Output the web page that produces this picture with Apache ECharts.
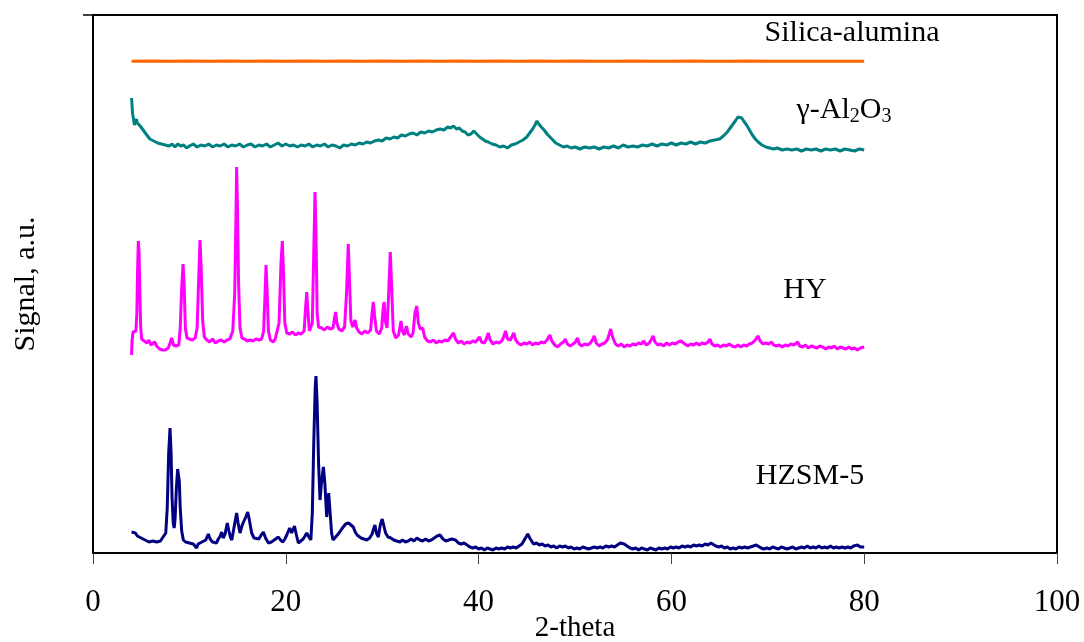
<!DOCTYPE html>
<html>
<head>
<meta charset="utf-8">
<script src="https://cdn.jsdelivr.net/npm/echarts@6/dist/echarts.min.js"></script>
<style>html,body{margin:0;padding:0;background:#fff}#c{width:1084px;height:642px}</style>
</head>
<body>
<div id="c"></div>
<script>
// x-axis tick labels
const xTicks = [0, 20, 40, 60, 80, 100];
const seriesNames = ['Silica-alumina', 'γ-Al2O3', 'HY', 'HZSM-5'];

const silicaAlumina = [[4,491.8],[6,492],[8,491.8],[10,492],[12,491.7],[14,492.1],[16,491.8],[18,492],[20,491.7],[22,492],[24,491.8],[26,492.1],[28,491.7],[30,492],[32,491.8],[34,492],[36,491.7],[38,492],[40,491.8],[42,492],[44,491.7],[46,492],[48,491.8],[50,492],[52,491.7],[54,491.8],[56,492],[58,491.7],[60,491.8],[62,492],[64,491.7],[66,491.8],[68,492],[70,491.7],[72,491.8],[74,491.7],[76,491.8],[78,491.7],[80,491.8]];

const gammaAlumina = [[4.0,455],[4.05,448],[4.1,440],[4.2,434],[4.3,428],[4.4,431],[4.5,434],[4.6,430],[4.75,432],[4.9,427],[5.05,426],[5.2,423],[5.35,421],[5.5,419],[5.7,418],[5.9,414],[6.1,415],[6.3,412],[6.5,413],[6.7,410],[6.9,412],[7.1,409],[7.3,411],[7.5,408],[7.7,410],[7.9,407],[8.2,409],[8.5,406],[8.8,409],[9.1,407],[9.4,408],[9.7,405],[10.0,407],[10.4,409],[10.8,406],[11.2,408],[11.6,407],[12.0,409],[12.4,406],[12.8,408],[13.2,407],[13.6,409],[14.0,406],[14.4,408],[14.8,407],[15.2,409],[15.6,406],[16.0,408],[16.4,409],[16.8,406],[17.2,408],[17.6,407],[18.0,409],[18.4,406],[18.8,408],[19.2,410],[19.6,407],[20.0,409],[20.4,407],[20.8,408],[21.2,406],[21.6,408],[22.0,407],[22.4,409],[22.8,406],[23.2,408],[23.6,407],[24.0,409],[24.4,406],[24.8,408],[25.2,407],[25.6,405],[26.0,408],[26.4,407],[26.8,409],[27.2,408],[27.6,410],[28.0,409],[28.4,411],[28.8,410],[29.2,412],[29.6,413],[30.0,412],[30.4,415],[30.8,414],[31.2,416],[31.6,415],[32.0,418],[32.4,417],[32.8,419],[33.2,420],[33.6,418],[34.0,421],[34.4,420],[34.8,422],[35.2,421],[35.6,423],[36.0,424],[36.4,423],[36.8,426],[37.1,425],[37.4,427],[37.7,424],[38.0,425],[38.3,422],[38.6,421],[38.9,418],[39.2,419],[39.5,422],[39.8,419],[40.1,416],[40.4,414],[40.7,412],[41.0,411],[41.4,409],[41.8,408],[42.2,406],[42.6,407],[43.0,405],[43.4,408],[43.8,409],[44.2,411],[44.6,413],[45.0,416],[45.3,420],[45.6,424],[45.85,428],[46.05,432],[46.25,429],[46.5,426],[46.8,423],[47.1,419],[47.4,416],[47.7,413],[48.0,410],[48.4,408],[48.8,406],[49.2,407],[49.6,405],[50.0,406],[50.5,404],[51.0,406],[51.5,405],[52.0,406],[52.5,404],[53.0,406],[53.5,405],[54.0,407],[54.5,405],[55.0,408],[55.5,406],[56.0,407],[56.5,406],[57.0,408],[57.5,407],[58.0,409],[58.5,407],[59.0,409],[59.5,408],[60.0,410],[60.5,408],[61.0,410],[61.5,409],[62.0,411],[62.5,409],[63.0,411],[63.5,410],[64.0,412],[64.5,413],[65.0,414],[65.4,417],[65.8,421],[66.1,425],[66.4,429],[66.7,433],[66.9,436],[67.1,438],[67.3,435],[67.5,432],[67.8,428],[68.1,423],[68.4,418],[68.7,414],[69.0,411],[69.4,408],[69.8,406],[70.2,405],[70.6,404],[71.0,405],[71.5,403],[72.0,404],[72.5,403],[73.0,404],[73.5,402],[74.0,404],[74.5,403],[75.0,404],[75.5,402],[76.0,404],[76.5,403],[77.0,404],[77.5,402],[78.0,404],[78.5,403],[79.0,402],[79.5,404],[80.0,403]];

const hy = [[4.0,198],[4.05,212],[4.15,221],[4.3,220],[4.45,222],[4.55,240],[4.62,280],[4.7,312],[4.78,300],[4.86,260],[4.95,225],[5.05,214],[5.3,212],[5.6,210],[5.8,213],[6.0,208],[6.2,206],[6.4,211],[6.6,207],[6.9,204],[7.2,203],[7.5,203],[7.8,205],[8.0,210],[8.16,215],[8.35,208],[8.6,207],[8.9,208],[9.05,225],[9.2,265],[9.34,289],[9.45,270],[9.58,225],[9.75,215],[10.0,214],[10.3,213],[10.6,215],[10.8,225],[10.95,270],[11.1,313],[11.22,285],[11.38,232],[11.55,216],[11.8,213],[12.1,211],[12.4,214],[12.7,210],[13.0,212],[13.3,213],[13.6,211],[13.9,213],[14.2,214],[14.5,222],[14.7,260],[14.82,330],[14.9,386],[14.98,350],[15.1,270],[15.25,225],[15.45,215],[15.7,214],[16.0,212],[16.3,213],[16.6,212],[16.9,214],[17.2,213],[17.5,214],[17.7,222],[17.85,260],[17.95,288],[18.05,265],[18.2,222],[18.4,213],[18.7,211],[18.9,214],[19.1,216],[19.3,230],[19.5,290],[19.64,312],[19.76,280],[19.9,230],[20.1,220],[20.4,219],[20.7,221],[21.0,218],[21.3,220],[21.6,219],[21.9,222],[22.05,245],[22.17,261],[22.3,240],[22.45,222],[22.6,221],[22.75,230],[22.9,300],[23.03,361],[23.13,320],[23.25,240],[23.4,226],[23.7,225],[24.0,223],[24.3,226],[24.6,224],[24.9,225],[25.05,235],[25.17,241],[25.3,230],[25.5,224],[25.8,222],[26.1,226],[26.3,260],[26.48,309],[26.6,275],[26.75,232],[26.95,226],[27.18,233],[27.35,225],[27.6,221],[27.9,219],[28.2,222],[28.5,220],[28.8,223],[28.95,240],[29.08,251],[29.2,238],[29.4,222],[29.7,219],[29.95,225],[30.1,245],[30.2,251],[30.32,232],[30.5,225],[30.65,255],[30.84,301],[30.98,265],[31.15,222],[31.4,215],[31.7,218],[31.95,232],[32.1,222],[32.3,218],[32.5,227],[32.7,219],[33.0,216],[33.2,220],[33.4,240],[33.58,247],[33.75,230],[33.95,224],[34.2,225],[34.4,216],[34.7,212],[35.0,211],[35.3,213],[35.6,210],[35.9,212],[36.2,211],[36.5,213],[36.8,212],[37.1,216],[37.4,220],[37.6,214],[37.9,210],[38.2,212],[38.5,209],[38.8,211],[39.1,210],[39.4,212],[39.7,211],[40.1,216],[40.3,211],[40.6,210],[40.8,214],[41.0,220],[41.2,213],[41.5,209],[41.8,211],[42.1,210],[42.4,212],[42.6,216],[42.8,222],[43.0,214],[43.3,213],[43.65,220],[43.85,213],[44.1,210],[44.4,208],[44.7,210],[45.0,209],[45.3,211],[45.6,208],[45.9,210],[46.2,209],[46.5,211],[46.8,210],[47.1,213],[47.4,218],[47.6,212],[47.9,208],[48.2,206],[48.5,209],[48.8,211],[49.0,214],[49.2,209],[49.5,207],[49.8,209],[50.05,211],[50.25,215],[50.45,209],[50.7,207],[51.0,209],[51.3,208],[51.6,210],[51.85,214],[52.0,217],[52.2,210],[52.5,207],[52.8,209],[53.1,210],[53.4,214],[53.7,224],[53.9,216],[54.2,209],[54.5,207],[54.8,209],[55.1,206],[55.4,208],[55.7,207],[56.0,209],[56.3,208],[56.6,210],[56.9,209],[57.1,212],[57.4,208],[57.7,210],[57.95,214],[58.1,217],[58.3,211],[58.6,208],[58.9,209],[59.2,207],[59.5,210],[59.8,208],[60.1,210],[60.4,209],[60.7,211],[61.0,212],[61.2,214],[61.4,209],[61.7,207],[62.0,209],[62.3,208],[62.6,210],[62.9,208],[63.2,210],[63.5,209],[63.8,211],[64.0,214],[64.2,209],[64.5,207],[64.8,208],[65.1,206],[65.4,208],[65.7,207],[66.0,209],[66.3,207],[66.6,206],[66.9,208],[67.2,206],[67.5,208],[67.8,207],[68.1,209],[68.4,210],[68.7,213],[69.0,217],[69.2,212],[69.5,209],[69.8,210],[70.1,209],[70.4,211],[70.6,208],[70.9,207],[71.2,208],[71.5,206],[71.8,208],[72.1,207],[72.4,209],[72.7,208],[72.9,210],[73.1,211],[73.3,207],[73.6,206],[73.9,208],[74.2,205],[74.5,207],[74.8,206],[75.1,205],[75.4,207],[75.7,206],[76.0,204],[76.3,206],[76.6,205],[76.9,207],[77.2,204],[77.5,206],[77.8,205],[78.1,204],[78.4,206],[78.7,204],[79.0,205],[79.3,203],[79.6,205],[80.0,206]];

const hzsm5 = [[4.0,21],[4.2,19],[4.4,20],[4.6,17],[4.8,18],[5.0,15],[5.2,16],[5.4,13],[5.6,14],[5.8,11],[6.0,13],[6.2,12],[6.4,14],[6.6,11],[6.8,13],[7.0,12],[7.2,15],[7.4,14],[7.55,20],[7.7,45],[7.85,100],[7.99,125],[8.1,100],[8.2,55],[8.32,30],[8.42,25],[8.52,35],[8.65,65],[8.78,84],[8.85,85],[8.95,72],[9.05,45],[9.2,22],[9.37,13],[9.6,11],[9.8,13],[10.0,10],[10.2,12],[10.4,9],[10.6,10],[10.75,5],[10.9,9],[11.1,8],[11.3,11],[11.5,10],[11.7,13],[11.96,19],[12.15,14],[12.4,11],[12.6,12],[12.8,10],[13.0,14],[13.2,17],[13.35,21],[13.5,15],[13.7,19],[13.93,30],[14.1,22],[14.25,16],[14.4,13],[14.6,24],[14.9,40],[15.05,30],[15.25,20],[15.45,27],[15.66,32],[15.85,36],[16.05,41],[16.2,34],[16.46,20],[16.7,15],[16.9,13],[17.2,14],[17.45,18],[17.67,21],[17.9,15],[18.2,10],[18.5,11],[18.8,13],[19.0,14],[19.23,16],[19.45,13],[19.7,11],[19.9,14],[20.1,18],[20.4,25],[20.6,20],[20.9,27],[21.1,18],[21.3,10],[21.5,12],[21.8,14],[22.0,17],[22.17,20],[22.4,16],[22.6,13],[22.75,40],[22.9,110],[23.05,165],[23.13,177],[23.25,150],[23.4,90],[23.55,53],[23.7,70],[23.9,86],[24.05,70],[24.24,36],[24.35,48],[24.45,60],[24.6,40],[24.75,20],[24.9,13],[25.1,15],[25.35,18],[25.6,21],[25.8,24],[26.0,26],[26.2,29],[26.35,31],[26.5,30],[26.7,28],[27.0,26],[27.2,21],[27.4,18],[27.6,20],[27.8,15],[28.1,14],[28.4,13],[28.7,15],[28.95,19],[29.1,24],[29.25,28],[29.4,20],[29.6,16],[29.8,28],[30.0,34],[30.15,28],[30.35,20],[30.6,16],[30.9,15],[31.2,13],[31.5,12],[31.85,11],[32.1,13],[32.4,11],[32.7,12],[33.0,14],[33.3,12],[33.6,15],[33.9,13],[34.2,12],[34.5,14],[34.8,12],[35.1,13],[35.4,15],[35.7,17],[36.0,18],[36.3,14],[36.6,12],[36.9,13],[37.2,14],[37.4,16],[37.6,13],[37.9,10],[38.2,9],[38.5,10],[38.8,8],[39.1,6],[39.4,5],[39.7,6],[40.0,4],[40.3,5],[40.6,3],[40.9,5],[41.2,4],[41.5,3],[41.8,5],[42.1,4],[42.4,5],[42.7,4],[43.0,6],[43.3,5],[43.6,6],[43.9,5],[44.2,7],[44.5,9],[44.8,14],[45.1,19],[45.3,15],[45.5,12],[45.7,9],[46.0,10],[46.3,8],[46.6,9],[46.9,7],[47.2,8],[47.5,6],[47.8,7],[48.1,5],[48.4,7],[48.7,6],[49.0,7],[49.3,5],[49.6,6],[49.9,4],[50.2,5],[50.5,4],[50.8,6],[51.1,5],[51.4,4],[51.7,5],[52.0,6],[52.3,5],[52.6,6],[52.9,5],[53.2,7],[53.5,6],[53.8,7],[54.1,6],[54.4,8],[54.7,10],[54.9,12],[55.1,9],[55.4,7],[55.7,5],[56.0,4],[56.3,5],[56.6,3],[56.9,5],[57.2,4],[57.5,3],[57.8,5],[58.1,4],[58.4,3],[58.7,5],[59.0,4],[59.3,5],[59.6,4],[59.9,6],[60.2,5],[60.5,6],[60.8,5],[61.1,7],[61.4,6],[61.7,7],[62.0,6],[62.3,8],[62.6,7],[62.9,8],[63.2,7],[63.5,9],[63.8,8],[64.1,10],[64.3,8],[64.6,7],[64.9,6],[65.2,7],[65.5,5],[65.8,6],[66.1,4],[66.4,5],[66.7,4],[67.0,6],[67.3,5],[67.6,6],[67.9,5],[68.2,6],[68.5,7],[68.8,8],[69.0,6],[69.3,5],[69.6,4],[69.9,5],[70.2,4],[70.5,6],[70.8,5],[71.1,4],[71.4,6],[71.7,5],[72.0,4],[72.3,5],[72.6,6],[72.9,4],[73.2,5],[73.5,6],[73.8,5],[74.1,7],[74.4,5],[74.7,6],[75.0,5],[75.3,7],[75.6,5],[75.9,6],[76.2,5],[76.5,7],[76.8,5],[77.1,6],[77.4,5],[77.7,6],[78.0,5],[78.3,6],[78.6,5],[78.9,7],[79.1,6],[79.3,8],[79.6,6],[80.0,6]];

const colors = ['#FF6600', '#008080', '#FF00FF', '#000080'];
const font = '"Liberation Serif", "Times New Roman", serif';

const chart = echarts.init(document.getElementById('c'), null, {renderer: 'canvas'});
const dataSets = [silicaAlumina, gammaAlumina, hy, hzsm5];

chart.setOption({
  animation: false,
  backgroundColor: '#fff',
  grid: {left: 93, right: 27, top: 15, bottom: 89, containLabel: false, outerBoundsMode: 'none',
    show: true, borderColor: '#000', borderWidth: 2, backgroundColor: 'transparent'},
  xAxis: {
    type: 'value', min: xTicks[0], max: xTicks[xTicks.length - 1], interval: 20,
    name: '2-theta', nameLocation: 'middle', nameGap: 75, nameMoveOverlap: false,
    nameTextStyle: {fontFamily: font, fontSize: 29, color: '#000', verticalAlign: 'middle'},
    axisLine: {show: true, lineStyle: {color: '#000', width: 2}},
    axisTick: {show: true, inside: false, length: 11, lineStyle: {color: '#444', width: 1}},
    axisLabel: {fontFamily: font, fontSize: 31, color: '#000', margin: 34},
    splitLine: {show: false}
  },
  yAxis: {
    type: 'value', min: 0, max: 538, interval: 538,
    name: 'Signal, a.u.', nameLocation: 'middle', nameGap: 52, nameRotate: 90,
    nameTextStyle: {fontFamily: font, fontSize: 30, color: '#000'},
    axisLine: {show: true, lineStyle: {color: '#000', width: 2}},
    axisTick: {show: true, inside: false, length: 10, customValues: [538], lineStyle: {color: '#000', width: 1.5}},
    axisLabel: {show: false},
    splitLine: {show: false}
  },
  series: dataSets.map((d, i) => ({
    name: seriesNames[i], type: 'line', data: d, showSymbol: false, symbol: 'none',
    lineStyle: {color: colors[i], width: 3}, itemStyle: {color: colors[i]}, z: 3 + i
  })),
  graphic: [
    {type: 'text', style: {text: 'Silica-alumina', x: 852, y: 33, align: 'center', verticalAlign: 'middle', font: '30px ' + font, fill: '#000'}},
    {type: 'text', style: {x: 844, y: 110, align: 'center', verticalAlign: 'middle', fill: '#000',
      text: '{n|γ-Al}{s|2}{n|O}{s|3}',
      rich: {n: {fontSize: 30, fontFamily: font, fill: '#000', lineHeight: 34}, s: {fontSize: 20, fontFamily: font, fill: '#000', lineHeight: 12, verticalAlign: 'bottom'}}}},
    {type: 'text', style: {text: 'HY', x: 805, y: 290, align: 'center', verticalAlign: 'middle', font: '30px ' + font, fill: '#000'}},
    {type: 'text', style: {text: 'HZSM-5', x: 810, y: 476, align: 'center', verticalAlign: 'middle', font: '30px ' + font, fill: '#000'}}
  ]
});
</script>
</body>
</html>
